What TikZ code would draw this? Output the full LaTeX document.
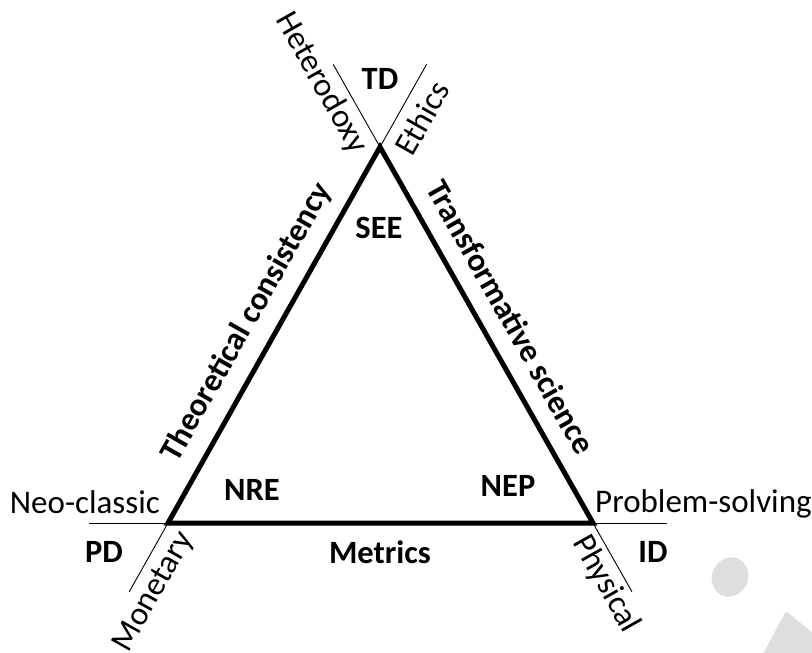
\documentclass[tikz,border=0pt]{standalone}
\usepackage{fontspec}
\setmainfont{Carlito}
\usetikzlibrary{calc}

\tikzset{
  side/.style={line width=5pt, line join=miter},
  axis/.style={line width=0.9pt},
  word/.style={font=\fontsize{33}{38}\selectfont, inner sep=0pt},
  bword/.style={font=\fontsize{32.5}{38}\selectfont\bfseries, inner sep=0pt},
  shade/.style={fill=black!13, draw=none}
}

\begin{document}
\begin{tikzpicture}[x=1pt, y=-1pt]
  \def \up {95}   % thin line beyond the top corner
  \def \dn {79}   % thin line beyond the bottom corners
  \def \tilt {60.5}
  \useasboundingbox (0,0) rectangle (812,653);

  % watermark in the corner
  \fill[shade, rotate around={-25:(730,577)}] (730,577) ellipse [x radius=18pt, y radius=20pt];
  \fill[shade, rounded corners=2pt] (786,611) -- (762,656) -- (815,656) -- (815,635) -- cycle;

  \coordinate (apex) at (380,147);
  \coordinate (west) at (168,523);
  \coordinate (east) at (593,523);

  % the sides, drawn on beyond the corners
  \draw[axis] ($(apex)!-\up pt!(west)$) -- ($(west)!-\dn pt!(apex)$);
  \draw[axis] ($(apex)!-\up pt!(east)$) -- ($(east)!-\dn pt!(apex)$);
  \draw[axis] ($(west)!-\dn pt!(east)$) -- ($(east)!-74pt!(west)$);
  \draw[side] (apex) -- (west) -- (east) -- cycle;

  % corners
  \node[bword] (see) at (379,228) {SEE};
  \node[bword] (nre) at (252,490) {NRE};
  \node[bword] (nep) at (508,486) {NEP};

  % sides
  \node[bword, rotate=\tilt] (theory) at (247,322) {Theoretical consistency};
  \node[bword, rotate=-\tilt] (transf) at (511,317) {Transformative science};
  \node[bword] (metrics) at (380,552) {Metrics};

  % outside
  \node[bword] (td) at (380,79) {TD};
  \node[bword] (pd) at (104,552) {PD};
  \node[bword] (id) at (653,552) {ID};
  \node[word, rotate=-\tilt] (hetero) at (321,83) {Heterodoxy};
  \node[word, rotate=\tilt] (ethics) at (422,118) {Ethics};
  \node[word, anchor=base east] (neo) at (160,513) {Neo-classic};
  \node[word, anchor=base west] (prob) at (595,512) {Problem-solving};
  \node[word, rotate=\tilt] (money) at (154,592) {Monetary};
  \node[word, rotate=-\tilt] (phys) at (606,584) {Physical};
\end{tikzpicture}
\end{document}
